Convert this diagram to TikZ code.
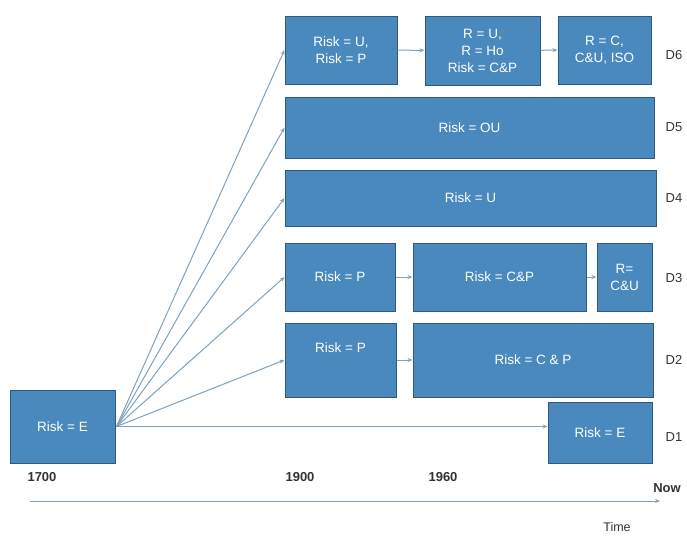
\documentclass[tikz,border=0pt]{standalone}
\usepackage{fontspec}
\setmainfont{Liberation Sans}
\usetikzlibrary{arrows.meta}
\definecolor{boxfill}{HTML}{4A89BD}
\definecolor{boxline}{HTML}{2C5A80}
\definecolor{conn}{HTML}{7FA2BC}
\begin{document}
\begin{tikzpicture}[x=1pt,y=-1pt,
  box/.style={draw=boxline, line width=1pt, fill=boxfill, text=white, font=\fontsize{13.5}{17}\selectfont, align=center, inner sep=2pt},
  btxt/.style={text=white, font=\fontsize{13.5}{17}\selectfont, inner sep=0pt},
  conline/.style={draw=conn, line width=1pt, -{Stealth[length=5pt,width=4pt]}},
  dlab/.style={font=\fontsize{13}{15}\selectfont, text=black!80},
  year/.style={font=\bfseries\fontsize{13}{15}\selectfont, text=black!80},
]
\useasboundingbox (0,0) rectangle (687,536);
% boxes
\node[box, minimum width=105pt, minimum height=73pt] (e0) at (62.5,426.5) {Risk = E};
\node[box, minimum width=112pt, minimum height=68pt] (a1) at (341,50) {Risk = U,\\Risk = P};
\node[box, minimum width=115pt, minimum height=69pt] (a2) at (482.5,50.5) {R = U,\\R = Ho\\Risk = C\&P};
\node[box, minimum width=93pt, minimum height=68pt] (a3) at (604.5,50) {R = C,\\C\&U, ISO};
\node[box, minimum width=369pt, minimum height=61pt] (b1) at (469.5,127.5) {Risk = OU};
\node[box, minimum width=371pt, minimum height=56pt] (c1) at (470.5,198) {Risk = U};
\node[box, minimum width=110pt, minimum height=68pt] (d1) at (340,277) {Risk = P};
\node[box, minimum width=173pt, minimum height=68pt] (d2) at (499.5,277) {Risk = C\&P};
\node[box, minimum width=55pt, minimum height=68pt] (d3) at (624.5,277) {R=\\C\&U};
\node[box, minimum width=111pt, minimum height=74pt] (f1) at (340.5,360) {};
\node[btxt] (f1t) at (340.5,348) {Risk = P};
\node[box, minimum width=240pt, minimum height=74pt] (f2) at (533,360) {Risk = C \& P};
\node[box, minimum width=104pt, minimum height=61pt] (g1) at (600,432.5) {Risk = E};
% row labels
\node[dlab] (l6) at (674,55) {D6};
\node[dlab] (l5) at (674,127) {D5};
\node[dlab] (l4) at (674,198) {D4};
\node[dlab] (l3) at (674,278) {D3};
\node[dlab] (l2) at (674,360) {D2};
\node[dlab] (l1) at (674,437) {D1};
% fan connectors
\coordinate (o) at ([xshift=1pt]e0.east);
\draw[conline] (o) -- (a1.west);
\draw[conline] (o) -- (b1.west);
\draw[conline] (o) -- (c1.west);
\draw[conline] (o) -- (d1.west);
\draw[conline] (o) -- (f1.west);
\draw[conline] (o) -- (o -| g1.west);
% horizontal connectors
\draw[conline] (a1) -- (a2);
\draw[conline] (a2) -- (a3);
\draw[conline] (d1) -- (d2);
\draw[conline] (d2) -- (d3);
\draw[conline] (f1) -- (f2);
% time axis
\node[year] (y1700) at (42,477) {1700};
\node[year] (y1900) at (300,477) {1900};
\node[year] (y1960) at (443,477) {1960};
\node[year] (ynow) at (667,488) {Now};
\coordinate (t0) at (30,501);
\coordinate (t1) at (660,501);
\draw[conline] (t0) -- (t1);
\node[font=\fontsize{12.5}{15}\selectfont, text=black!80] (tlab) at (617,527) {Time};
\end{tikzpicture}
\end{document}
